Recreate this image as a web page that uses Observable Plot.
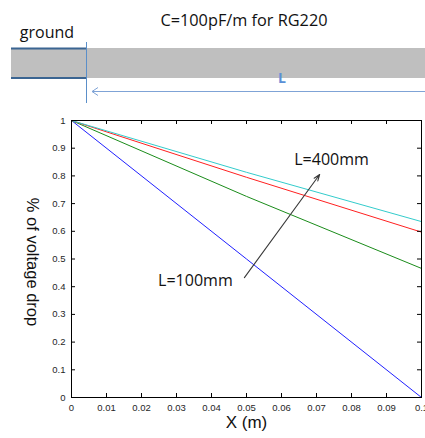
<!DOCTYPE html>
<html><head><meta charset="utf-8">
<script src="https://cdn.jsdelivr.net/npm/d3@7"></script>
<script src="https://cdn.jsdelivr.net/npm/@observablehq/plot@0.6"></script>
<style>
body{margin:0;background:#fff;}
#top{width:425px;height:110px;overflow:hidden;}
#top svg, #chart svg{display:block;}
</style></head><body>
<div id="top">
<svg width="425" height="110" font-family="'Open Sans', 'Noto Sans', sans-serif">
  <text x="244" y="26" text-anchor="middle" font-size="16.3" fill="#111">C=100pF/m for RG220</text>
  <text x="47" y="38" text-anchor="middle" font-size="16" fill="#111">ground</text>
  <rect x="11" y="48" width="414" height="30" fill="#bfbfbf"/>
  <line x1="11" y1="48.5" x2="86" y2="48.5" stroke="#3b6592" stroke-width="2"/>
  <line x1="11" y1="78" x2="86" y2="78" stroke="#3b6592" stroke-width="2"/>
  <line x1="86.5" y1="42" x2="86.5" y2="103" stroke="#5b8fc9" stroke-width="1"/>
  <line x1="92" y1="91.5" x2="425" y2="91.5" stroke="#7fa3d6" stroke-width="1"/>
  <polyline points="98,87.5 92,91.5 98,95.5" fill="none" stroke="#7fa3d6" stroke-width="1"/>
  <text x="282" y="83" text-anchor="middle" font-size="14" font-weight="bold" fill="#5b8fd6">L</text>
</svg>
</div>
<div id="chart"></div>
<script>
const xs = [0, 0.05, 0.1];
const blueVals = [1, 0.5, 0];
const greenVals = [1, 0.726, 0.466];
const redVals = [1, 0.795, 0.597];
const cyanVals = [1, 0.813, 0.635];
const seriesColors = ["#2020ff", "#1a8c1a", "#ff2020", "#33cccc"];
const xTicks = [0, 0.01, 0.02, 0.03, 0.04, 0.05, 0.06, 0.07, 0.08, 0.09, 0.1];
const yTicks = [0, 0.1, 0.2, 0.3, 0.4, 0.5, 0.6, 0.7, 0.8, 0.9, 1];
const labelLow = {text: "L=100mm", x: 0.0354, y: 0.422};
const labelHigh = {text: "L=400mm", x: 0.0743, y: 0.859};
const arrowSeg = {x1: 0.0494, y1: 0.433, x2: 0.0709, y2: 0.805};

const allSeries = [blueVals, greenVals, redVals, cyanVals];
const lineMarks = allSeries.map((vals, i) =>
  Plot.line(xs.map((x, j) => ({x, y: vals[j]})), {x: "x", y: "y", stroke: seriesColors[i], strokeWidth: 1})
);
const fmt = d => String(d);

const chart = Plot.plot({
  width: 425,
  height: 328,
  marginTop: 10,
  marginBottom: 41,
  marginLeft: 71,
  marginRight: 4,
  style: {fontFamily: "'Liberation Sans', Arial, sans-serif", fontSize: "9.5px", color: "#262626", background: "#fff"},
  x: {domain: [0, 0.1]},
  y: {domain: [0, 1]},
  marks: [
    ...lineMarks,
    Plot.arrow([arrowSeg], {x1: "x1", y1: "y1", x2: "x2", y2: "y2", stroke: "#3a3a3a", strokeWidth: 1.1, headLength: 9, headAngle: 40}),
    Plot.text([labelLow, labelHigh], {x: "x", y: "y", text: "text", fontSize: 16, fill: "#111", fontFamily: "'Open Sans', 'Noto Sans', sans-serif"}),
    Plot.tickX(xTicks, {x: d => d, insetTop: 273, stroke: "#000"}),
    Plot.tickX(xTicks, {x: d => d, insetBottom: 273, stroke: "#000"}),
    Plot.tickY(yTicks, {y: d => d, insetRight: 346, stroke: "#000"}),
    Plot.tickY(yTicks, {y: d => d, insetLeft: 346, stroke: "#000"}),
    Plot.frame({stroke: "#000"}),
    Plot.axisX({ticks: xTicks, tickSize: 0, tickPadding: 7, tickFormat: fmt, label: null}),
    Plot.axisY({ticks: yTicks, tickSize: 0, tickPadding: 6, tickFormat: fmt, label: null}),
    Plot.text(["X (m)"], {frameAnchor: "bottom", dy: 30, fontSize: 17, fill: "#111"}),
    Plot.text(["% of voltage drop"], {frameAnchor: "left", textAnchor: "middle", dx: -39, dy: 3, rotate: 90, fontSize: 16.5, fill: "#111"})
  ]
});
document.getElementById("chart").appendChild(chart);
</script>
</body></html>
